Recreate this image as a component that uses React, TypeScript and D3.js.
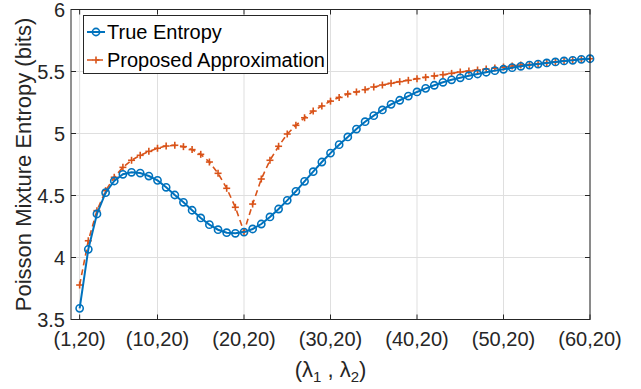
import { useEffect } from "react"
import * as d3 from "d3"

// lambda_1 runs 1..60 with lambda_2 fixed at 20
const lambda1 = d3.range(1, 61)

const trueEntropy = [
  3.59, 4.066, 4.351, 4.523, 4.617, 4.671, 4.687, 4.681, 4.657, 4.622,
  4.566, 4.504, 4.445, 4.381, 4.319, 4.265, 4.224, 4.2, 4.195, 4.205,
  4.23, 4.27, 4.327, 4.391, 4.461, 4.534, 4.614, 4.692, 4.77, 4.842,
  4.91, 4.972, 5.036, 5.095, 5.144, 5.19, 5.235, 5.268, 5.302, 5.335,
  5.364, 5.389, 5.413, 5.433, 5.449, 5.466, 5.48, 5.494, 5.507, 5.518,
  5.531, 5.542, 5.552, 5.56, 5.569, 5.577, 5.585, 5.59, 5.598, 5.603,
]

const approx = [
  3.778, 4.135, 4.378, 4.539, 4.647, 4.727, 4.784, 4.824, 4.856, 4.881,
  4.899, 4.905, 4.894, 4.87, 4.832, 4.77, 4.679, 4.558, 4.405, 4.208,
  4.431, 4.633, 4.784, 4.897, 4.996, 5.066, 5.127, 5.181, 5.222, 5.261,
  5.291, 5.319, 5.335, 5.353, 5.375, 5.391, 5.405, 5.418, 5.429, 5.442,
  5.453, 5.464, 5.474, 5.485, 5.496, 5.504, 5.512, 5.52, 5.528, 5.536,
  5.544, 5.552, 5.556, 5.563, 5.571, 5.578, 5.586, 5.591, 5.598, 5.603,
]

const xTicks = [1, 10, 20, 30, 40, 50, 60]
const xTickLabels = ["(1,20)", "(10,20)", "(20,20)", "(30,20)", "(40,20)", "(50,20)", "(60,20)"]
const yTicks = [3.5, 4, 4.5, 5, 5.5, 6]
const yTickLabels = ["3.5", "4", "4.5", "5", "5.5", "6"]
const seriesNames = ["True Entropy", "Proposed Approximation"]

const blue = "#0072BD"
const orange = "#D95319"
const axisColor = "#262626"
const gridColor = "#dfdfdf"
const font = "'Liberation Sans', Arial, Helvetica, sans-serif"

export default function App() {
  useEffect(() => {
    document.body.style.margin = "0"
  }, [])

  const width = 641
  const height = 389
  const left = 71
  const right = 590
  const top = 9.5
  const bottom = 319.5

  const x = d3.scaleLinear().domain([0, 60]).range([left, right])
  const y = d3.scaleLinear().domain([3.5, 6]).range([bottom, top])

  const line = d3
    .line<number>()
    .x((d, i) => x(lambda1[i]))
    .y((d) => y(d))

  const tickLen = 5

  return (
    <svg width={width} height={height} style={{ display: "block", fontFamily: font }}>
      <rect width={width} height={height} fill="#fff" />

      {/* grid */}
      {xTicks.map((t) => (
        <line key={"gx" + t} x1={x(t)} x2={x(t)} y1={top} y2={bottom} stroke={gridColor} strokeWidth={1} />
      ))}
      {yTicks.map((t) => (
        <line key={"gy" + t} x1={left} x2={right} y1={y(t)} y2={y(t)} stroke={gridColor} strokeWidth={1} />
      ))}

      {/* series */}
      <path d={line(approx) ?? ""} fill="none" stroke={orange} strokeWidth={1.6} strokeDasharray="6,4" />
      {approx.map((v, i) => (
        <g key={"p" + i} stroke={orange} strokeWidth={1.6}>
          <line x1={x(lambda1[i]) - 3.5} x2={x(lambda1[i]) + 3.5} y1={y(v)} y2={y(v)} />
          <line x1={x(lambda1[i])} x2={x(lambda1[i])} y1={y(v) - 3.5} y2={y(v) + 3.5} />
        </g>
      ))}
      <path d={line(trueEntropy) ?? ""} fill="none" stroke={blue} strokeWidth={2} />
      {trueEntropy.map((v, i) => (
        <circle key={"c" + i} cx={x(lambda1[i])} cy={y(v)} r={3.6} fill="none" stroke={blue} strokeWidth={1.6} />
      ))}

      {/* axes box and ticks */}
      <rect x={left} y={top} width={right - left} height={bottom - top} fill="none" stroke={axisColor} strokeWidth={1} />
      {xTicks.map((t) => (
        <g key={"tx" + t} stroke={axisColor}>
          <line x1={x(t)} x2={x(t)} y1={bottom} y2={bottom - tickLen} />
          <line x1={x(t)} x2={x(t)} y1={top} y2={top + tickLen} />
        </g>
      ))}
      {yTicks.map((t) => (
        <g key={"ty" + t} stroke={axisColor}>
          <line x1={left} x2={left + tickLen} y1={y(t)} y2={y(t)} />
          <line x1={right} x2={right - tickLen} y1={y(t)} y2={y(t)} />
        </g>
      ))}

      {/* tick labels */}
      {xTicks.map((t, i) => (
        <text key={"lx" + t} x={x(t)} y={346} textAnchor="middle" fontSize={20} fill={axisColor}>
          {xTickLabels[i]}
        </text>
      ))}
      {yTicks.map((t, i) => (
        <text key={"ly" + t} x={65} y={y(t) + 7} textAnchor="end" fontSize={20} fill={axisColor}>
          {yTickLabels[i]}
        </text>
      ))}

      {/* axis labels */}
      <text x={(left + right) / 2} y={377} textAnchor="middle" fontSize={22} fill={axisColor}>
        (λ<tspan fontSize={15} dy={5}>1</tspan>
        <tspan dy={-5}> , λ</tspan>
        <tspan fontSize={15} dy={5}>2</tspan>
        <tspan dy={-5}>)</tspan>
      </text>
      <text
        transform={`translate(31,${(top + bottom) / 2}) rotate(-90)`}
        textAnchor="middle"
        fontSize={22}
        fill={axisColor}
      >
        Poisson Mixture Entropy (bits)
      </text>

      {/* legend */}
      <rect x={83.5} y={15.5} width={244} height={58} fill="#fff" stroke={axisColor} strokeWidth={1} />
      <line x1={87} x2={105} y1={32} y2={32} stroke={blue} strokeWidth={2} />
      <circle cx={96} cy={32} r={3.6} fill="none" stroke={blue} strokeWidth={1.6} />
      <text x={107} y={39} fontSize={20} fill="#000">
        {seriesNames[0]}
      </text>
      <line x1={87} x2={105} y1={60} y2={60} stroke={orange} strokeWidth={1.6} strokeDasharray="6,4" />
      <line x1={92.5} x2={99.5} y1={60} y2={60} stroke={orange} strokeWidth={1.6} />
      <line x1={96} x2={96} y1={56.5} y2={63.5} stroke={orange} strokeWidth={1.6} />
      <text x={107} y={67} fontSize={20} fill="#000">
        {seriesNames[1]}
      </text>
    </svg>
  )
}
